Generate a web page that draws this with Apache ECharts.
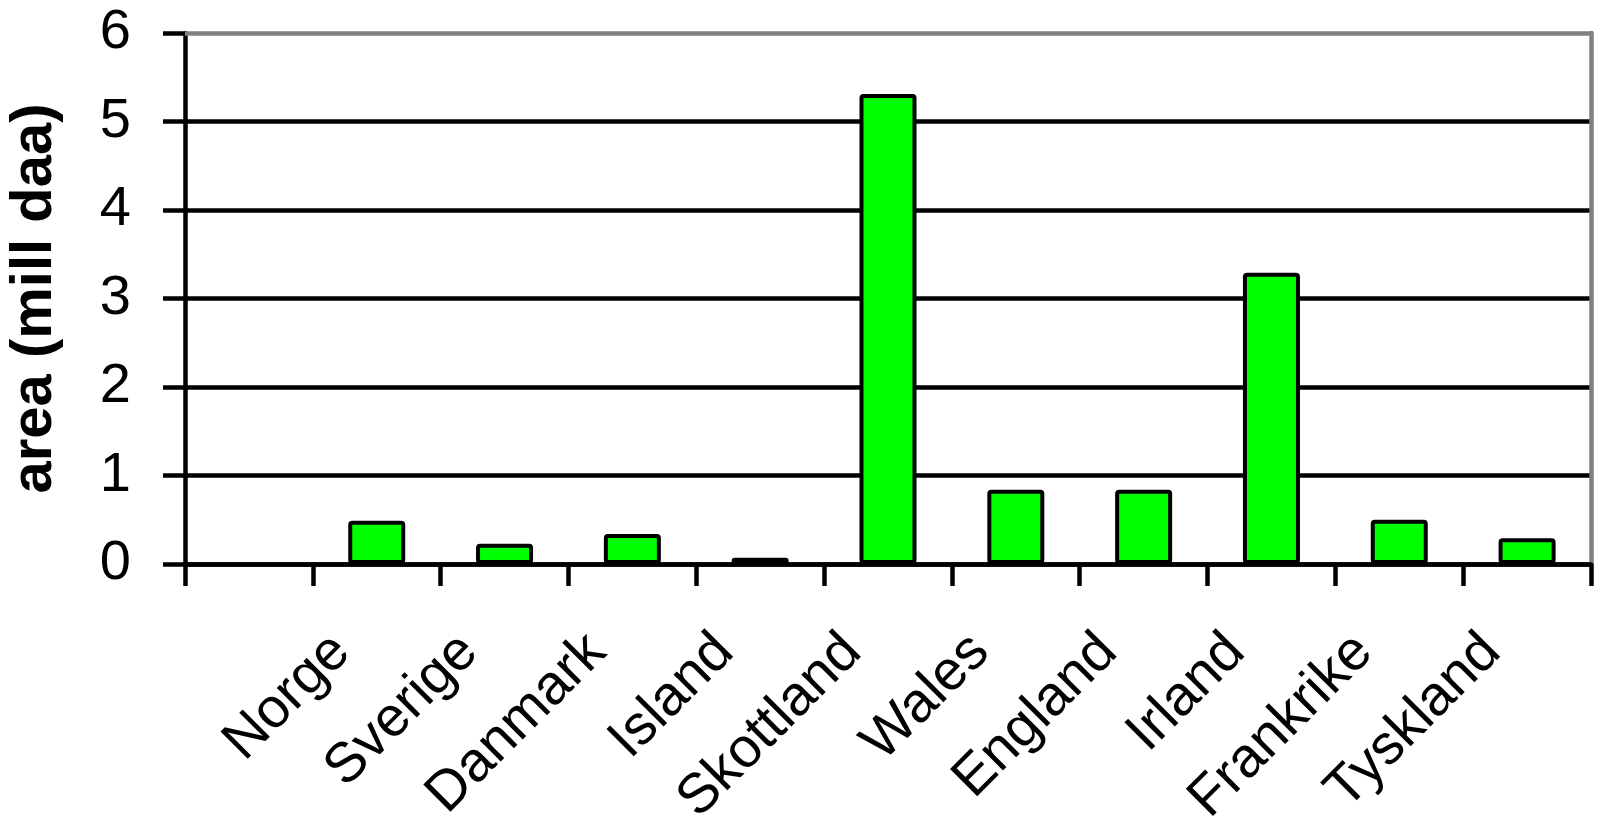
<!DOCTYPE html>
<html>
<head>
<meta charset="utf-8">
<title>area (mill daa)</title>
<script src="https://cdn.jsdelivr.net/npm/echarts@6/dist/echarts.min.js"></script>
<style>
  html, body { margin: 0; padding: 0; background: #ffffff; }
  #chart { width: 1598px; height: 830px; }
</style>
</head>
<body>
<div id="chart"></div>
<script>
// Categories: the first slot on the axis is left blank
const countries = ['', 'Norge', 'Sverige', 'Danmark', 'Island', 'Skottland', 'Wales', 'England', 'Irland', 'Frankrike', 'Tyskland'];
// Area per country, million decares
const areaValues = [null, 0.49, 0.23, 0.34, 0.07, 5.31, 0.84, 0.84, 3.29, 0.5, 0.29];
const yTicks = [0, 1, 2, 3, 4, 5, 6];
const yTitle = 'area (mill daa)';

const FONT = '"Liberation Sans", Arial, Helvetica, sans-serif';
const LINE_W = 4.5;

const chart = echarts.init(document.getElementById('chart'), null, { renderer: 'canvas' });

chart.setOption({
  animation: false,
  backgroundColor: '#ffffff',
  grid: { left: 185, right: 7, top: 33, bottom: 266, containLabel: false, outerBoundsMode: 'none' },
  xAxis: [
    {
      type: 'category',
      data: countries,
      position: 'bottom',
      axisLine: { show: true, onZero: false, lineStyle: { color: '#000', width: LINE_W } },
      axisTick: { show: true, inside: false, length: 22, lineStyle: { color: '#000', width: LINE_W } },
      axisLabel: {
        interval: 0,
        rotate: 45,
        margin: 44,
        padding: [0, 50, 0, 0],
        color: '#000',
        fontSize: 56,
        fontFamily: FONT
      },
      splitLine: { show: false }
    },
    {
      // plot-area frame along the top edge
      type: 'category',
      data: countries,
      position: 'top',
      axisLine: { show: true, onZero: false, lineStyle: { color: '#808080', width: LINE_W } },
      axisTick: { show: false },
      axisLabel: { show: false },
      splitLine: { show: false }
    }
  ],
  yAxis: [
    {
      type: 'value',
      min: yTicks[0],
      max: yTicks[yTicks.length - 1],
      interval: 1,
      position: 'left',
      name: yTitle,
      nameLocation: 'middle',
      nameRotate: 90,
      nameGap: 121,
      nameTextStyle: { color: '#000', fontSize: 58, fontWeight: 'bold', fontFamily: FONT },
      axisLine: { show: true, onZero: false, lineStyle: { color: '#000', width: LINE_W } },
      axisTick: { show: true, inside: false, length: 22, lineStyle: { color: '#000', width: LINE_W } },
      axisLabel: { color: '#000', fontSize: 56, fontFamily: FONT, margin: 54 },
      splitLine: { show: true, showMaxLine: false, lineStyle: { color: '#000', width: LINE_W } }
    },
    {
      // plot-area frame along the right edge
      type: 'value',
      min: yTicks[0],
      max: yTicks[yTicks.length - 1],
      interval: 1,
      position: 'right',
      axisLine: { show: true, onZero: false, lineStyle: { color: '#808080', width: LINE_W } },
      axisTick: { show: false },
      axisLabel: { show: false },
      splitLine: { show: false }
    }
  ],
  series: [
    {
      type: 'bar',
      data: areaValues,
      xAxisIndex: 0,
      yAxisIndex: 0,
      barWidth: 57,
      itemStyle: { color: '#00ff00', borderColor: '#000', borderWidth: 4, borderRadius: 2 }
    }
  ]
});
</script>
</body>
</html>
